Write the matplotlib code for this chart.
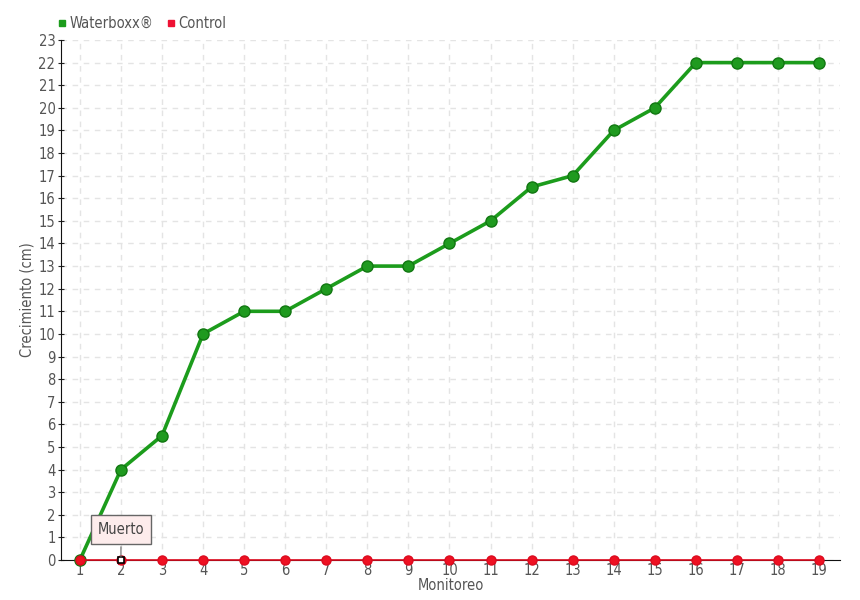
import matplotlib
matplotlib.use("Agg")
import matplotlib.pyplot as plt
from matplotlib.lines import Line2D

plt.rcParams['font.family'] = ['DejaVu Sans']
plt.rcParams['font.stretch'] = 'condensed'

monitoreo = list(range(1, 20))
waterboxx = [0, 4, 5.5, 10, 11, 11, 12, 13, 13, 14, 15, 16.5, 17, 19, 20, 22, 22, 22, 22]
control = [0] * 19
y_ticks = list(range(0, 24))

txt = '#555555'

fig = plt.figure(figsize=(8.6, 6), dpi=100)
ax = fig.add_axes([61 / 860, 40 / 600, 779 / 860, 520 / 600])

ax.plot(monitoreo, waterboxx, color='#1c9c1c', lw=2.6, marker='o', ms=8,
        markerfacecolor='#1f9a1f', markeredgecolor='#117711', markeredgewidth=1,
        zorder=3, clip_on=False)
ax.plot(monitoreo, control, color='#dd0a1e', lw=1.2, marker='o', ms=6.5,
        markerfacecolor='#ee1122', markeredgecolor='#dd0a1e', zorder=4, clip_on=False)
# highlighted point (Muerto)
ax.plot([monitoreo[1]], [control[1]], marker='s', ms=5, markerfacecolor='white',
        markeredgecolor='black', markeredgewidth=1.2, zorder=5, ls='none', clip_on=False)

ax.annotate('Muerto', xy=(monitoreo[1], control[1]), xytext=(0, 22), textcoords='offset points',
            ha='center', va='center', fontsize=10.5, color='#444444',
            bbox=dict(boxstyle='square,pad=0.45', fc='#fdecec', ec='#666666', lw=1),
            arrowprops=dict(arrowstyle='-', color='#666666', lw=0.8), zorder=6)

ax.set_xlim(0.54, 19.51)
ax.set_ylim(0, 23)
ax.set_xticks(monitoreo)
ax.set_yticks(y_ticks)
ax.tick_params(axis='both', colors='#222222', labelcolor=txt, labelsize=10.5)
ax.tick_params(axis='x', length=0, pad=2)
ax.tick_params(axis='y', length=4, direction='inout', pad=2)

ax.grid(True, color='#e4e4e4', ls=(0, (4, 4)), lw=1)
ax.set_axisbelow(True)
for s in ['top', 'right']:
    ax.spines[s].set_visible(False)
ax.spines['left'].set_color('#111111')
ax.spines['bottom'].set_color('#111111')

ax.set_xlabel('Monitoreo', color=txt, fontsize=10.5, labelpad=0)
ax.set_ylabel('Crecimiento (cm)', color=txt, fontsize=10.5, labelpad=3)

handles = [Line2D([], [], ls='none', marker='s', ms=5, color='#1c9c1c'),
           Line2D([], [], ls='none', marker='s', ms=5, color='#ee1133')]
fig.legend(handles, ['Waterboxx®', 'Control'], loc='upper left', bbox_to_anchor=(0.05, 0.995),
           ncol=2, frameon=False, fontsize=10.5, labelcolor=txt, handletextpad=0.1,
           columnspacing=0.8, handlelength=0.8)

fig.savefig('out.png', dpi=100)
